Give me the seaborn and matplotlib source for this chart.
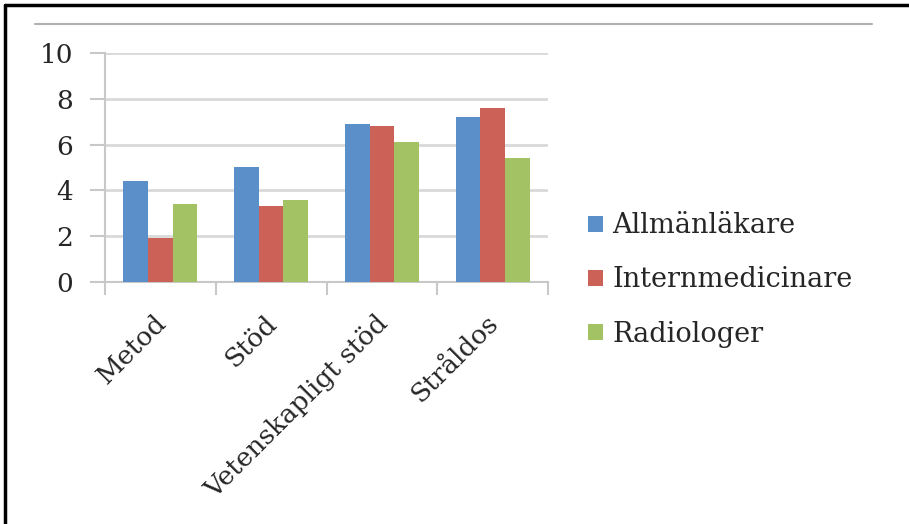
import numpy as np
import matplotlib.pyplot as plt
import matplotlib.lines as mlines
import matplotlib.transforms as mtransforms
import seaborn as sns
import pandas as pd

categories = ['Metod', 'Stöd', 'Vetenskapligt stöd', 'Stråldos']
groups = ['Allmänläkare', 'Internmedicinare', 'Radiologer']
allmanlakare = [4.4, 5.0, 6.9, 7.2]
internmedicinare = [1.9, 3.3, 6.8, 7.6]
radiologer = [3.4, 3.6, 6.1, 5.4]
y_ticks = [0, 2, 4, 6, 8, 10]

colors = ['#5B8FC9', '#CC6157', '#A3C263']

df = pd.DataFrame({
    'kategori': categories * 3,
    'grupp': [g for g in groups for _ in categories],
    'varde': allmanlakare + internmedicinare + radiologer,
})

sns.set_style('white')
plt.rcParams['font.family'] = ['DejaVu Serif']
FONT_SIZE = 19
GRID = '#d9d9d9'
TICK = '#c8c8c8'

fig = plt.figure(figsize=(9.09, 5.24), dpi=100)
ax = fig.add_axes([105 / 909, 1 - 282 / 524, (550 - 107) / 909, (282 - 53) / 524])

sns.barplot(data=df, x='kategori', y='varde', hue='grupp', hue_order=groups,
            order=categories, palette=colors, width=0.67, saturation=1,
            linewidth=0, ax=ax, zorder=3)

ax.set_xlim(-0.5, len(categories) - 0.5)
ax.set_ylim(0, 10)
ax.set_yticks(y_ticks)
ax.set_yticklabels([str(t) for t in y_ticks], fontsize=FONT_SIZE)
ax.set_xlabel('')
ax.set_ylabel('')

# labels at the centres, tick marks at the category borders
ax.set_xticks(range(len(categories)))
ax.set_xticklabels(categories, fontsize=FONT_SIZE, rotation=45, ha='right',
                   rotation_mode='anchor')
ax.tick_params(axis='x', which='major', length=0, pad=16)
ax.set_xticks(np.arange(-0.5, len(categories)), minor=True)
ax.tick_params(axis='x', which='minor', bottom=True, length=9, width=1.5,
               color=TICK, direction='out')
ax.tick_params(axis='y', left=True, length=11, width=1.5, color=TICK,
               direction='out', pad=12)

offset = mtransforms.ScaledTranslation(-7 / 100, -6 / 100, fig.dpi_scale_trans)
for lab in ax.get_xticklabels():
    lab.set_transform(lab.get_transform() + offset)

ax.grid(axis='y', color=GRID, linewidth=2)
ax.set_axisbelow(True)
for side in ['top', 'right']:
    ax.spines[side].set_visible(False)
for side in ['left', 'bottom']:
    ax.spines[side].set_color(TICK)
    ax.spines[side].set_linewidth(1.5)

# legend to the right of the plot
ax.legend(loc='center left', bbox_to_anchor=(588 / 909, 1 - 280 / 524),
          bbox_transform=fig.transFigure, frameon=False, fontsize=FONT_SIZE + 0.5,
          handlelength=0.55, handleheight=0.55, handletextpad=0.35,
          labelspacing=1.0, borderpad=0, borderaxespad=0, title=None)

# frame lines around the picture
fig.add_artist(mlines.Line2D([5 / 909, 1], [1 - 5 / 524, 1 - 5 / 524], color='black', linewidth=2.5))
fig.add_artist(mlines.Line2D([5 / 909, 5 / 909], [0, 1 - 5 / 524], color='black', linewidth=2.5))
fig.add_artist(mlines.Line2D([35 / 909, 872 / 909], [1 - 24 / 524, 1 - 24 / 524], color='#b0b0b0', linewidth=1.5))

plt.savefig('out.png', dpi=100)
plt.close()
